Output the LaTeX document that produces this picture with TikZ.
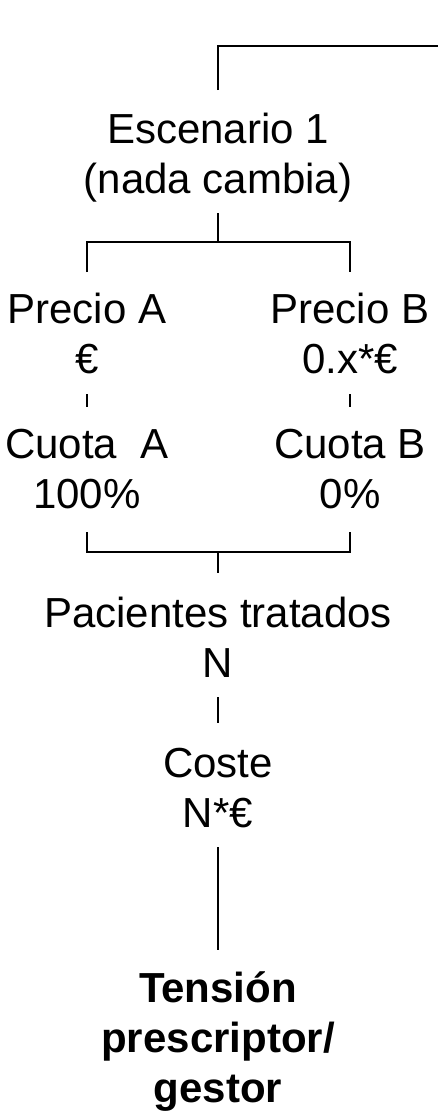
\documentclass[tikz,border=0pt]{standalone}
\usepackage{fontspec}
\setmainfont{Liberation Sans}
\begin{document}
\begin{tikzpicture}[x=1pt,y=1pt,
  lbl/.style={inner sep=0pt, align=center, anchor=base, font=\fontsize{42}{50}\selectfont},
  lblb/.style={lbl, font=\fontsize{42}{50}\selectfont\bfseries},
  conn/.style={line width=1.2pt}]
\useasboundingbox (0,0) rectangle (438,-1111);
\node[lbl] (esc) at (218,-193) {Escenario 1\\(nada cambia)};
\node[lbl] (pa) at (87,-373) {Precio A\\€};
\node[lbl] (pb) at (350,-373) {Precio B\\0.x*€};
\node[lbl] (ca) at (87,-508) {Cuota\ \ A\\100\%};
\node[lbl] (cb) at (350,-508) {Cuota B\\0\%};
\node[lbl] (pac) at (218,-677) {Pacientes tratados\\N};
\node[lbl] (cos) at (218,-827) {Coste\\N*€};
\node[lblb] (ten) at (218,-1102) {Tensión\\prescriptor/\\gestor};
\coordinate (topend) at (438,-46);
% top
\draw[conn] ([yshift=103pt]esc.base) |- (topend);
% esc to precios
\draw[conn] ([yshift=-20pt]esc.base) -- ++(0,-29) coordinate (split1);
\draw[conn] ([yshift=101pt]pa.base) |- (split1) -| ([yshift=101pt]pb.base);
% ticks
\draw[conn] ([yshift=-21pt]pa.base) -- ([yshift=101pt]ca.base);
\draw[conn] ([yshift=-21pt]pb.base) -- ([yshift=101pt]cb.base);
% cuotas to pacientes
\draw[conn] ([yshift=-24pt]ca.base) |- ([yshift=125pt]pac.base) -| ([yshift=-24pt]cb.base);
\draw[conn] ([yshift=125pt]pac.base) -- ([yshift=104pt]pac.base);
% pacientes to coste
\draw[conn] ([yshift=-20pt]pac.base) -- ([yshift=104pt]cos.base);
% coste to tension
\draw[conn] ([yshift=-20pt]cos.base) -- ([yshift=152pt]ten.base);
\end{tikzpicture}
\end{document}
